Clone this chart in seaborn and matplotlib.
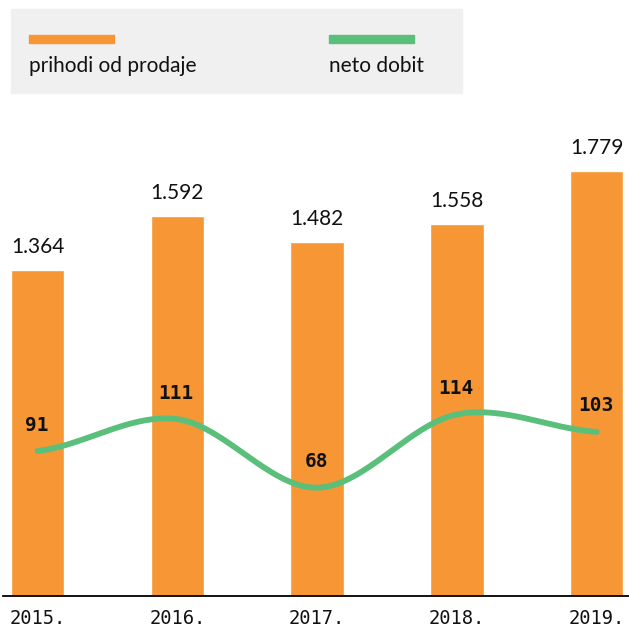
import numpy as np
import pandas as pd
import matplotlib
matplotlib.use("Agg")
import matplotlib.pyplot as plt
from matplotlib.patches import Rectangle
import seaborn as sns

# ---- data ----
years = ["2015.", "2016.", "2017.", "2018.", "2019."]
revenue = [1364, 1592, 1482, 1558, 1779]      # prihodi od prodaje
profit = [91, 111, 68, 114, 103]              # neto dobit
legend_labels = ["prihodi od prodaje", "neto dobit"]

ORANGE = "#F79634"
GREEN = "#5ABF7B"

sns.set_theme(style="white")
plt.rcParams["font.family"] = ["Lato", "DejaVu Sans"]

W, H = 629, 627
fig = plt.figure(figsize=(W / 100, H / 100), dpi=100)

# axes geometry (pixels)
step = 139.8
x0_px = 37.5 - 0.25 * step
bottom_px = 596
top_px = 100
ax = fig.add_axes([x0_px / W, (H - bottom_px) / H, 4.5 * step / W, (bottom_px - top_px) / H])

df = pd.DataFrame({"year": years, "revenue": revenue, "profit": profit})
sns.barplot(data=df, x="year", y="revenue", color=ORANGE, saturation=1,
            width=0.383, ax=ax)
ax.set_xlim(-0.25, 4.25)
ax.set_ylim(0, (bottom_px - top_px) / 0.239)

for i, v in enumerate(revenue):
    ax.annotate(f"{v:,}".replace(",", "."), (i, v), xytext=(0, 23),
                textcoords="offset pixels", ha="center", va="center",
                fontsize=15, color="#111111", family=["Lato", "DejaVu Sans"])

ax.set_xlabel("")
ax.set_ylabel("")
ax.set_yticks([])
for s in ["top", "right", "left"]:
    ax.spines[s].set_visible(False)
ax.spines["bottom"].set_color("black")
ax.spines["bottom"].set_linewidth(1.3)
ax.tick_params(axis="x", length=0, pad=9, labelsize=13.5, labelcolor="#111111")
for lab in ax.get_xticklabels():
    lab.set_family(["DejaVu Sans Mono"])

# smoothed line (Catmull-Rom through the data points)
ax2 = ax.twinx()
p = np.array(profit, dtype=float)
n = len(p)
xs, ys = [], []
for i in range(n - 1):
    m0 = (p[i + 1] - p[i - 1]) / 2 if i > 0 else (p[i + 1] - p[i]) / 2
    m1 = (p[i + 2] - p[i]) / 2 if i + 2 < n else (p[i + 1] - p[i]) / 2
    t = np.linspace(0, 1, 60)
    h00 = 2 * t**3 - 3 * t**2 + 1
    h10 = t**3 - 2 * t**2 + t
    h01 = -2 * t**3 + 3 * t**2
    h11 = t**3 - t**2
    xs.append(i + t)
    ys.append(h00 * p[i] + h10 * m0 + h01 * p[i + 1] + h11 * m1)
xs = np.concatenate(xs)
ys = np.concatenate(ys)
sns.lineplot(x=xs, y=ys, ax=ax2, color=GREEN, linewidth=4.2,
             solid_capstyle="round", sort=False)
ax2.set_ylim(0, (bottom_px - top_px) / 1.593)
ax2.set_xlim(-0.25, 4.25)
ax2.set_yticks([])
ax2.set_ylabel("")
for s in ax2.spines.values():
    s.set_visible(False)

for i, v in enumerate(profit):
    ax2.annotate(str(v), (i, v), xytext=(-1, 26), textcoords="offset pixels",
                 ha="center", va="center", fontsize=14, fontweight="bold",
                 color="#111111", family=["DejaVu Sans Mono"])

# legend box
def px_rect(x1, y1, x2, y2, color):
    fig.patches.append(Rectangle((x1 / W, (H - y2) / H), (x2 - x1) / W, (y2 - y1) / H,
                                 transform=fig.transFigure, color=color, zorder=0))

px_rect(11, 9, 462, 93, "#F0F0F0")
px_rect(29, 35, 114, 43, ORANGE)
px_rect(329, 35, 414, 43, GREEN)
fig.text(29 / W, (H - 72) / H, legend_labels[0], ha="left", va="baseline",
         fontsize=15, color="#111111")
fig.text(329 / W, (H - 72) / H, legend_labels[1], ha="left", va="baseline",
         fontsize=15, color="#111111")

fig.savefig("out.png", dpi=100)
